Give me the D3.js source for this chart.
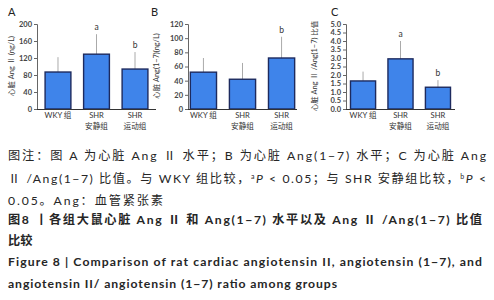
<!DOCTYPE html>
<html lang="zh">
<head>
<meta charset="UTF-8">
<title>Figure 8</title>
<script src="https://cdn.jsdelivr.net/npm/d3@7"></script>
<style>
  body { margin: 0; background: #fff; }
  svg { display: block; }
  text { font-family: Lato, "Noto Sans CJK SC", sans-serif; }
</style>
</head>
<body>
<svg width="494" height="300"></svg>
<script>
// data
var categories = [["WKY 组"], ["SHR", "安静组"], ["SHR", "运动组"]];

var angII = [87, 129, 94];
var angIISd = [35, 47, 40];
var angIISig = ["", "a", "b"];

var ang17 = [52, 42, 72];
var ang17Sd = [20, 23, 30];
var ang17Sig = ["", "", "b"];

var ratio = [1.65, 2.95, 1.28];
var ratioSd = [0.55, 1.05, 0.42];
var ratioSig = ["", "a", "b"];

var ticksA = [0, 40, 80, 120, 160, 200];
var ticksB = [0, 20, 40, 60, 80, 100, 120];
var ticksC = [0, 0.5, 1, 1.5, 2, 2.5, 3, 3.5, 4, 4.5, 5];

var captions = [
  "图注：图 A 为心脏 Ang Ⅱ 水平；B 为心脏 Ang(1−7) 水平；C 为心脏 Ang",
  "Ⅱ /Ang(1−7) 比值。与 WKY 组比较，",
  "0.05。Ang：血管紧张素",
  "图8 丨各组大鼠心脏 Ang Ⅱ 和 Ang(1−7) 水平以及 Ang Ⅱ /Ang(1−7) 比值",
  "比较",
  "Figure 8 | Comparison of rat cardiac angiotensin II, angiotensin (1−7), and",
  "angiotensin II/ angiotensin (1−7) ratio among groups"
];

var svg = d3.select("svg");

// one panel
function drawPanel(p) {
  var g = svg.append("g");
  var y = d3.scaleLinear().domain([0, p.max]).range([109, 24]);
  var x = d3.scaleBand().domain(d3.range(3)).range([p.x0, p.x1])
            .paddingInner(0.33).paddingOuter(p.po);

  // panel letter
  g.append("text").attr("x", p.lx).attr("y", 16)
    .attr("font-size", 11).attr("fill", "#222").text(p.letter);

  // y title
  g.append("text")
    .attr("transform", "translate(" + p.tx + ",66) rotate(-90)")
    .attr("text-anchor", "middle").attr("font-size", 7.4).attr("fill", "#333")
    .text(p.title);

  // error bars
  g.selectAll(".err").data(p.values).enter().append("line")
    .attr("x1", function(d, i) { return x(i) + x.bandwidth() / 2; })
    .attr("x2", function(d, i) { return x(i) + x.bandwidth() / 2; })
    .attr("y1", function(d) { return y(d); })
    .attr("y2", function(d, i) { return y(d + p.sd[i]); })
    .attr("stroke", "#aaa").attr("stroke-width", 1);

  // bars
  g.selectAll(".bar").data(p.values).enter().append("rect")
    .attr("x", function(d, i) { return x(i); })
    .attr("y", function(d) { return y(d); })
    .attr("width", x.bandwidth())
    .attr("height", function(d) { return y(0) - y(d); })
    .attr("fill", "#3f84ea").attr("stroke", "#1d2a5e").attr("stroke-width", 1.4);

  // significance letters
  g.selectAll(".sig").data(p.sig).enter().append("text")
    .attr("x", function(d, i) { return x(i) + x.bandwidth() / 2; })
    .attr("y", function(d, i) { return y(p.values[i] + p.sd[i]) - 4; })
    .attr("text-anchor", "middle").attr("font-size", 8.5).attr("fill", "#333")
    .text(function(d) { return d; });

  // y axis
  var ay = g.append("g").attr("transform", "translate(" + p.x0 + ",0)")
    .call(d3.axisLeft(y).tickValues(p.ticks).tickSize(3).tickPadding(2)
      .tickFormat(p.fmt));
  ay.select(".domain").attr("stroke", "#666");
  ay.selectAll(".tick line").attr("stroke", "#666");
  ay.selectAll(".tick text").attr("font-size", 7.5).attr("font-weight", "bold")
    .attr("fill", "#444").style("font-family", "Lato, sans-serif");

  // x axis line
  g.append("line").attr("x1", p.x0).attr("x2", p.x1)
    .attr("y1", y(0) + 0.5).attr("y2", y(0) + 0.5)
    .attr("stroke", "#333").attr("stroke-width", 1);

  // category labels
  var cl = g.selectAll(".cat").data(categories).enter().append("text")
    .attr("text-anchor", "middle").attr("font-size", 7.6).attr("fill", "#333")
    .attr("transform", function(d, i) {
      return "translate(" + (x(i) + x.bandwidth() / 2) + ",118)";
    });
  cl.selectAll("tspan").data(function(d) { return d; }).enter().append("tspan")
    .attr("x", 0).attr("y", function(d, j) { return j * 11; })
    .text(function(d) { return d; });
}

drawPanel({ letter: "A", lx: 8, tx: 14, x0: 37, x1: 156, po: 0.21, max: 200,
  values: angII, sd: angIISd, sig: angIISig, ticks: ticksA, fmt: d3.format("d"),
  title: "心脏 Ang Ⅱ (ng/L)" });
drawPanel({ letter: "B", lx: 151, tx: 159, x0: 188, x1: 297, po: 0.06, max: 120,
  values: ang17, sd: ang17Sd, sig: ang17Sig, ticks: ticksB, fmt: d3.format("d"),
  title: "心脏 Ang(1−7)(ng/L)" });
drawPanel({ letter: "C", lx: 331, tx: 317, x0: 346, x1: 455, po: 0.12, max: 5,
  values: ratio, sd: ratioSd, sig: ratioSig, ticks: ticksC, fmt: d3.format(".1f"),
  title: "心脏 Ang Ⅱ /Ang(1−7) 比值" });

// caption
var cap = svg.append("g").attr("fill", "#262626");
var capY = [160, 183, 205, 224, 245, 266, 288];
var capW = [478, 478, 155, 474, 0, 474, 329];
var capBold = [false, false, false, true, true, true, true];

captions.forEach(function(t, i) {
  var el = cap.append("text").attr("x", 8).attr("y", capY[i])
    .attr("font-size", 12.2)
    .attr("font-weight", capBold[i] ? "bold" : "normal");
  if (i === 1) {
    el.append("tspan").text(t);
    el.append("tspan").attr("font-size", 7).attr("dy", -4).text("a");
    el.append("tspan").attr("font-style", "italic").attr("dy", 4).text("P");
    el.append("tspan").text(" < 0.05；与 SHR 安静组比较，");
    el.append("tspan").attr("font-size", 7).attr("dy", -4).text("b");
    el.append("tspan").attr("font-style", "italic").attr("dy", 4).text("P");
    el.append("tspan").text(" <");
  } else {
    el.text(t);
  }
  if (capW[i]) el.attr("textLength", capW[i]).attr("lengthAdjust", "spacing");
});
</script>
</body>
</html>
